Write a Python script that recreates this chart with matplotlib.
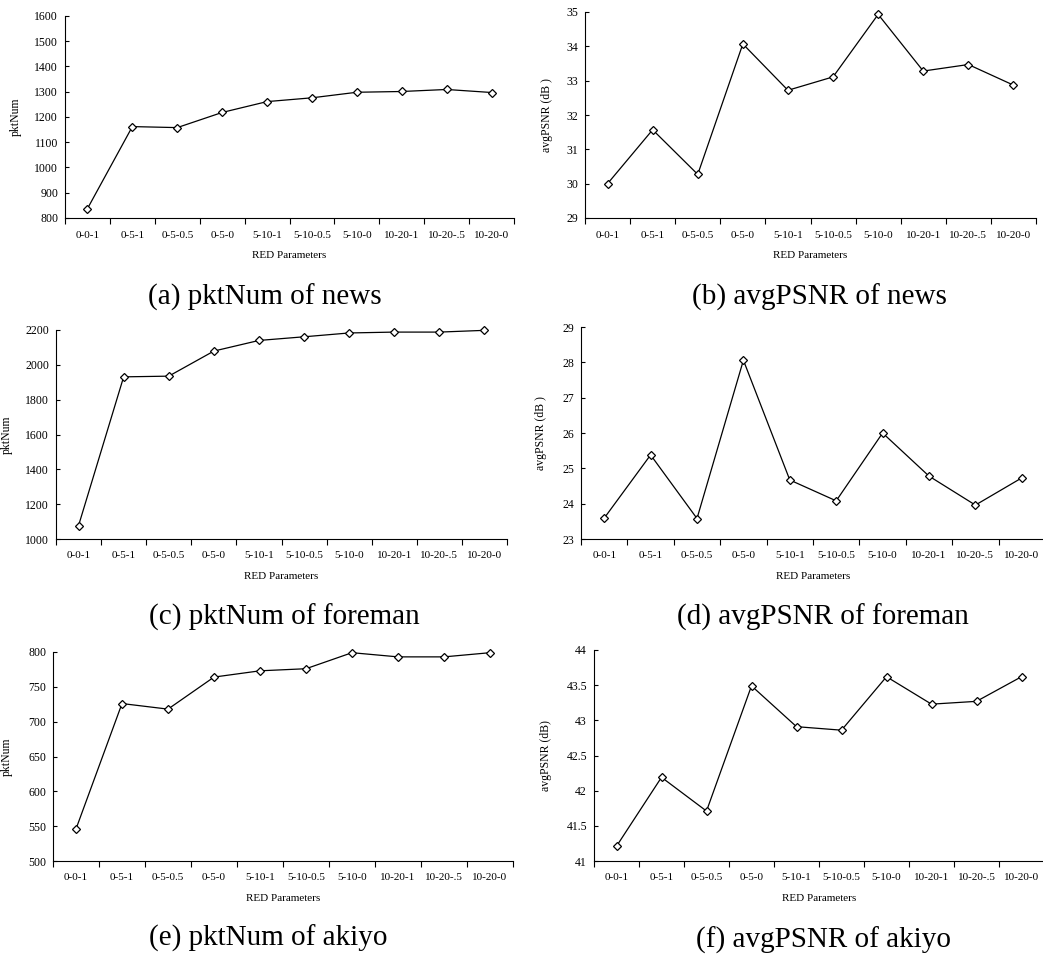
import numpy as np
import matplotlib
matplotlib.use("Agg")
import matplotlib.pyplot as plt

plt.rcParams['font.family'] = ['Liberation Serif', 'DejaVu Serif']

params = ["0-0-1", "0-5-1", "0-5-0.5", "0-5-0", "5-10-1", "5-10-0.5",
          "5-10-0", "10-20-1", "10-20-.5", "10-20-0"]

news_pkt = [837, 1162, 1158, 1218, 1261, 1276, 1298, 1301, 1309, 1297]
news_psnr = [30.0, 31.57, 30.27, 34.07, 32.72, 33.11, 34.93, 33.28, 33.47, 32.87]
foreman_pkt = [1077, 1931, 1935, 2079, 2140, 2161, 2183, 2188, 2188, 2198]
foreman_psnr = [23.59, 25.38, 23.58, 28.06, 24.67, 24.08, 26.0, 24.78, 23.96, 24.73]
akiyo_pkt = [546, 726, 718, 764, 773, 776, 799, 793, 793, 799]
akiyo_psnr = [41.21, 42.19, 41.71, 43.49, 42.91, 42.86, 43.62, 43.23, 43.27, 43.62]

W, H = 1043, 957
fig = plt.figure(figsize=(W / 100, H / 100), dpi=100)

def px_axes(l, t, r, b):
    return fig.add_axes([l / W, 1 - b / H, (r - l) / W, (b - t) / H])

# (rect, data, ylim, yticks, ylabel, ylabel_x_px, caption, caption xy)
panels = [
    ((65, 16, 514, 218), news_pkt, (800, 1600), np.arange(800, 1601, 100),
     "pktNum", 22, "(a) pktNum of news", (265, 297)),
    ((585, 12, 1036, 218), news_psnr, (29, 35), np.arange(29, 36, 1),
     "avgPSNR (dB )", 553, "(b) avgPSNR of news", (819, 297)),
    ((56, 330, 507, 539), foreman_pkt, (1000, 2200), np.arange(1000, 2201, 200),
     "pktNum", 13, "(c) pktNum of foreman", (284, 617)),
    ((581, 327, 1045, 539), foreman_psnr, (23, 29), np.arange(23, 30, 1),
     "avgPSNR (dB )", 547, "(d) avgPSNR of foreman", (823, 617)),
    ((53, 652, 513, 861), akiyo_pkt, (500, 800), np.arange(500, 801, 50),
     "pktNum", 13, "(e) pktNum of akiyo", (268, 938)),
    ((594, 650, 1044, 861), akiyo_psnr, (41, 44), np.arange(41, 44.01, 0.5),
     "avgPSNR (dB)", 552, "(f) avgPSNR of akiyo", (824, 940)),
]

x = np.arange(len(params))
for rect, vals, ylim, yticks, ylabel, ylx, caption, cxy in panels:
    ax = px_axes(*rect)
    ax.plot(x, vals, color="black", lw=0.9, marker="D", markersize=4.5,
            mfc="white", mec="black", mew=0.9, clip_on=False)
    ax.set_xlim(-0.5, len(params) - 0.5)
    ax.set_ylim(*ylim)
    ax.set_yticks(yticks)
    ax.set_yticklabels([("%g" % v) for v in yticks], fontsize=8.5)
    ax.set_xticks(x)
    ax.set_xticklabels(params, fontsize=8)
    ax.set_xticks(np.arange(-0.5, len(params)), minor=True)
    ax.tick_params(axis="x", which="major", length=0, pad=9)
    ax.tick_params(axis="x", which="minor", length=4, width=0.8, direction="out")
    ax.tick_params(axis="y", length=3, width=0.8, direction="in", pad=5)
    for s in ["top", "right"]:
        ax.spines[s].set_visible(False)
    for s in ["left", "bottom"]:
        ax.spines[s].set_linewidth(0.8)
    ax.set_xlabel("RED Parameters", fontsize=8, labelpad=8)
    ax.set_ylabel(ylabel, fontsize=8.5)
    l, t, r, b = rect
    ax.yaxis.set_label_coords((ylx - l) / (r - l), 0.5)
    fig.text(cxy[0] / W, 1 - cxy[1] / H, caption, fontsize=21,
             ha="center", va="center")

fig.savefig("out.png", dpi=100)
